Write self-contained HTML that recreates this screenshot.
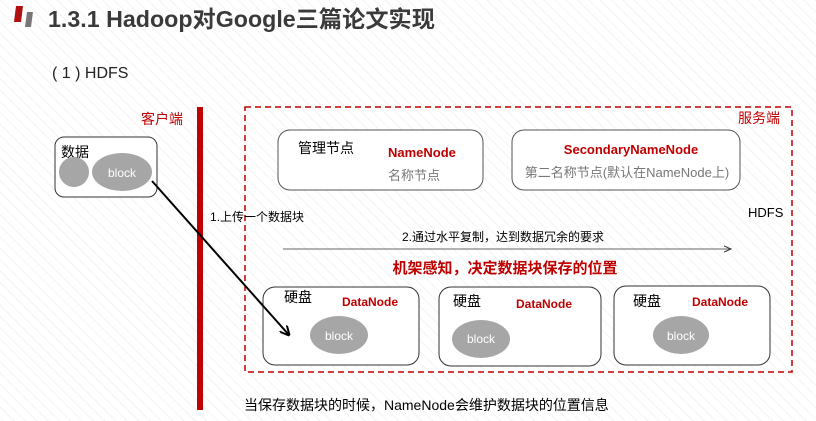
<!DOCTYPE html>
<html><head><meta charset="utf-8"><style>
html,body{margin:0;padding:0;background:#fff;}
svg{display:block;font-family:"Liberation Sans","Noto Sans CJK SC",sans-serif;}
</style></head><body>
<svg width="816" height="421" viewBox="0 0 816 421" xmlns="http://www.w3.org/2000/svg">
<defs>
<pattern id="hatch" width="8" height="8" patternUnits="userSpaceOnUse" patternTransform="rotate(-45)">
<line x1="0" y1="0" x2="0" y2="8" stroke="#f0f0f0" stroke-width="1.5"/>
</pattern>
<marker id="ah" markerWidth="10" markerHeight="10" refX="9" refY="5" orient="auto" markerUnits="userSpaceOnUse">
<path d="M0,0 L10,5 L0,10" fill="none" stroke="#000" stroke-width="2"/>
</marker>
<marker id="ah2" markerWidth="8" markerHeight="8" refX="7" refY="4" orient="auto" markerUnits="userSpaceOnUse">
<path d="M0,1 L7,4 L0,7" fill="none" stroke="#333" stroke-width="1"/>
</marker>
</defs>
<rect width="816" height="421" fill="#fff"/>
<rect width="816" height="421" fill="url(#hatch)"/>
<polygon points="16,6 23,6 21,22 14,22" fill="#b01010"/>
<polygon points="27,12 33,12 31,27 25,27" fill="#777"/>
<text x="48" y="27" font-size="23" font-weight="bold" fill="#3a3a3a" textLength="387" lengthAdjust="spacingAndGlyphs">1.3.1  Hadoop对Google三篇论文实现</text>
<text x="52" y="78" font-size="16" fill="#222">( 1 ) HDFS</text>
<text x="141" y="124" font-size="14" fill="#c00000">客户端</text>
<rect x="197" y="107" width="6" height="303" fill="#c00000"/>
<rect x="55" y="137" width="102" height="60" rx="9" fill="#fff" stroke="#333" stroke-width="1"/>
<text x="61" y="157" font-size="14" fill="#000">数据</text>
<circle cx="74" cy="172" r="15" fill="#a6a6a6"/>
<ellipse cx="122" cy="172" rx="30" ry="19" fill="#a6a6a6"/>
<text x="122" y="177" font-size="12" fill="#fff" text-anchor="middle">block</text>
<rect x="245" y="107" width="547" height="265" fill="none" stroke="#c00000" stroke-width="1.5" stroke-dasharray="6,4"/>
<text x="738" y="123" font-size="14" fill="#c00000">服务端</text>
<rect x="278" y="130" width="205" height="60" rx="12" fill="#fff" stroke="#555"/>
<text x="298" y="153" font-size="14" fill="#000">管理节点</text>
<text x="388" y="157" font-size="13" font-weight="bold" fill="#c00000">NameNode</text>
<text x="388" y="180" font-size="13" fill="#777">名称节点</text>
<rect x="512" y="130" width="228" height="60" rx="12" fill="#fff" stroke="#555"/>
<text x="631" y="154" font-size="13" font-weight="bold" fill="#c00000" text-anchor="middle">SecondaryNameNode</text>
<text x="627" y="177" font-size="13" fill="#777" text-anchor="middle">第二名称节点(默认在NameNode上)</text>
<text x="748" y="217" font-size="13" fill="#000">HDFS</text>
<text x="210" y="221" font-size="12" fill="#000">1.上传一个数据块</text>
<text x="503" y="241" font-size="12" fill="#000" text-anchor="middle">2.通过水平复制，达到数据冗余的要求</text>
<line x1="283" y1="249" x2="731" y2="249" stroke="#333" stroke-width="0.8" marker-end="url(#ah2)"/>
<text x="505" y="273" font-size="15" font-weight="bold" fill="#c00000" text-anchor="middle">机架感知，决定数据块保存的位置</text>
<rect x="263" y="287" width="156" height="78" rx="12" fill="#fff" stroke="#333"/>
<text x="284" y="302" font-size="14" fill="#000">硬盘</text>
<text x="342" y="306" font-size="12" font-weight="bold" fill="#c00000">DataNode</text>
<ellipse cx="339" cy="335" rx="29" ry="19" fill="#a6a6a6"/>
<text x="339" y="340" font-size="12" fill="#fff" text-anchor="middle">block</text>
<rect x="439" y="287" width="162" height="79" rx="12" fill="#fff" stroke="#333"/>
<text x="453" y="306" font-size="14" fill="#000">硬盘</text>
<text x="516" y="308" font-size="12" font-weight="bold" fill="#c00000">DataNode</text>
<ellipse cx="481" cy="339" rx="29" ry="19" fill="#a6a6a6"/>
<text x="481" y="343" font-size="12" fill="#fff" text-anchor="middle">block</text>
<rect x="614" y="286" width="156" height="79" rx="12" fill="#fff" stroke="#333"/>
<text x="633" y="306" font-size="14" fill="#000">硬盘</text>
<text x="692" y="306" font-size="12" font-weight="bold" fill="#c00000">DataNode</text>
<ellipse cx="681" cy="335" rx="28" ry="19" fill="#a6a6a6"/>
<text x="681" y="340" font-size="12" fill="#fff" text-anchor="middle">block</text>
<line x1="152" y1="181" x2="289" y2="335" stroke="#000" stroke-width="2" marker-end="url(#ah)"/>
<text x="244" y="410" font-size="14" fill="#000">当保存数据块的时候，NameNode会维护数据块的位置信息</text>
</svg>
</body></html>
